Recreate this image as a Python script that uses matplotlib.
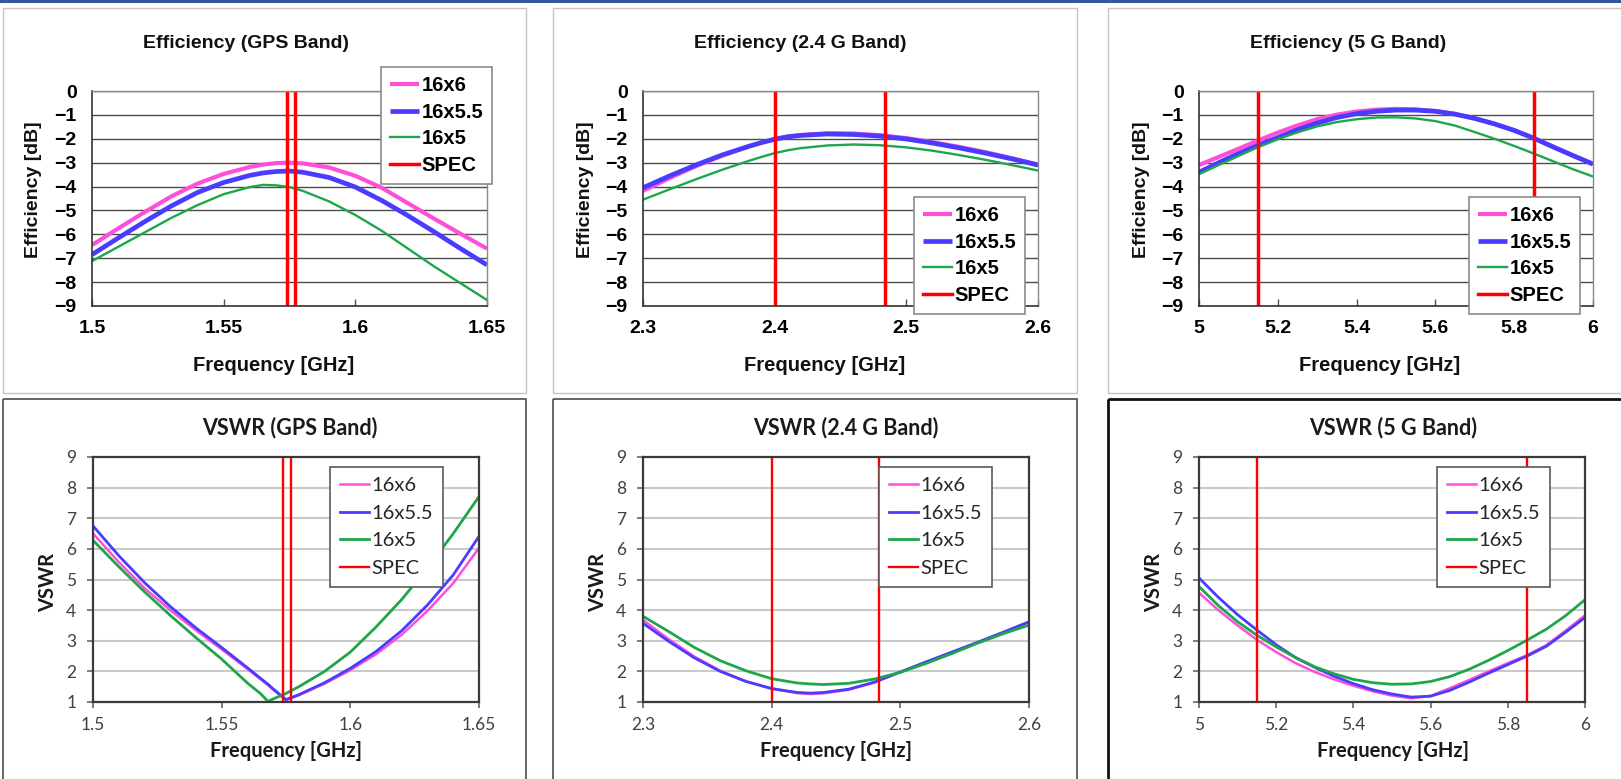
import matplotlib.pyplot as plt
from matplotlib.patches import Rectangle

W, H = 1621, 779

PINK = '#ff4fd8'
BLUE = '#4a3cff'
GREEN = '#1ea64b'
RED = '#ff0000'
TOPFONT = 'Liberation Sans'
BOTFONT = 'Lato'

names = ['16x6', '16x5.5', '16x5']

# ---- Efficiency [dB], GPS band
eff_gps_f = [1.50, 1.51, 1.52, 1.53, 1.54, 1.55, 1.56, 1.565, 1.57, 1.575, 1.58,
             1.59, 1.60, 1.61, 1.62, 1.63, 1.64, 1.65]
eff_gps_6 = [-6.45, -5.75, -5.07, -4.42, -3.88, -3.47, -3.18, -3.08, -3.02, -3.0, -3.03,
             -3.2, -3.55, -4.05, -4.7, -5.35, -5.98, -6.6]
eff_gps_55 = [-6.85, -6.15, -5.47, -4.82, -4.25, -3.83, -3.53, -3.43, -3.37, -3.35, -3.4,
              -3.62, -4.02, -4.58, -5.22, -5.9, -6.6, -7.28]
eff_gps_5 = [-7.12, -6.52, -5.92, -5.32, -4.78, -4.32, -4.02, -3.93, -3.95, -4.02, -4.18,
             -4.62, -5.19, -5.85, -6.6, -7.35, -8.05, -8.75]

# ---- Efficiency [dB], 2.4 G band
eff_24_f = [2.30, 2.32, 2.34, 2.36, 2.38, 2.39, 2.40, 2.41, 2.42, 2.44, 2.46, 2.48,
            2.50, 2.52, 2.54, 2.56, 2.58, 2.60]
eff_24_6 = [-4.18, -3.65, -3.15, -2.71, -2.33, -2.16, -2.01, -1.9, -1.84, -1.77, -1.78, -1.85,
            -1.97, -2.14, -2.34, -2.56, -2.81, -3.08]
eff_24_55 = [-4.05, -3.56, -3.1, -2.68, -2.32, -2.16, -2.02, -1.92, -1.86, -1.8, -1.82, -1.89,
             -2.01, -2.18, -2.38, -2.6, -2.84, -3.1]
eff_24_5 = [-4.55, -4.12, -3.7, -3.3, -2.93, -2.76, -2.6, -2.48, -2.39, -2.28, -2.24, -2.27,
            -2.36, -2.5, -2.68, -2.88, -3.1, -3.33]

# ---- Efficiency [dB], 5 G band
eff_5_f = [5.00, 5.05, 5.10, 5.15, 5.20, 5.25, 5.30, 5.35, 5.40, 5.45, 5.50,
           5.55, 5.60, 5.65, 5.70, 5.75, 5.80, 5.85, 5.90, 5.95, 6.00]
eff_5_6 = [-3.1, -2.76, -2.42, -2.07, -1.74, -1.44, -1.18, -0.99, -0.86, -0.78, -0.75,
           -0.77, -0.84, -0.96, -1.14, -1.37, -1.64, -1.97, -2.34, -2.7, -3.05]
eff_5_55 = [-3.4, -3.0, -2.62, -2.27, -1.95, -1.62, -1.34, -1.11, -0.95, -0.85, -0.8,
            -0.8, -0.85, -0.97, -1.15, -1.38, -1.65, -1.98, -2.35, -2.71, -3.06]
eff_5_5 = [-3.48, -3.1, -2.72, -2.35, -2.02, -1.73, -1.48, -1.3, -1.18, -1.11, -1.1,
           -1.15, -1.26, -1.45, -1.72, -2.0, -2.3, -2.62, -2.95, -3.28, -3.58]

# ---- VSWR, GPS band
vswr_gps_f = [1.50, 1.51, 1.52, 1.53, 1.54, 1.55, 1.56, 1.565, 1.568, 1.57, 1.575,
              1.58, 1.59, 1.60, 1.61, 1.62, 1.63, 1.64, 1.65]
vswr_gps_6 = [6.5, 5.57, 4.72, 4.0, 3.34, 2.72, 2.08, 1.75, 1.55, 1.4, 1.06,
              1.22, 1.6, 2.04, 2.56, 3.2, 3.98, 4.88, 6.03]
vswr_gps_55 = [6.75, 5.78, 4.9, 4.12, 3.42, 2.78, 2.12, 1.78, 1.58, 1.43, 1.08,
               1.24, 1.63, 2.1, 2.65, 3.33, 4.17, 5.15, 6.41]
vswr_gps_5 = [6.28, 5.42, 4.6, 3.83, 3.1, 2.4, 1.62, 1.28, 1.02, 1.1, 1.28,
              1.5, 2.0, 2.63, 3.45, 4.35, 5.38, 6.5, 7.71]

# ---- VSWR, 2.4 G band
vswr_24_f = [2.30, 2.32, 2.34, 2.36, 2.38, 2.40, 2.42, 2.43, 2.44, 2.46, 2.48,
             2.50, 2.52, 2.54, 2.56, 2.58, 2.60]
vswr_24_6 = [3.68, 3.05, 2.48, 2.02, 1.68, 1.43, 1.29, 1.26, 1.28, 1.4, 1.64,
             1.98, 2.3, 2.62, 2.94, 3.27, 3.6]
vswr_24_55 = [3.57, 2.98, 2.44, 2.0, 1.67, 1.44, 1.31, 1.29, 1.31, 1.42, 1.65,
              1.98, 2.31, 2.63, 2.95, 3.28, 3.62]
vswr_24_5 = [3.8, 3.3, 2.78, 2.35, 2.02, 1.76, 1.62, 1.59, 1.57, 1.61, 1.75,
             1.97, 2.26, 2.58, 2.92, 3.23, 3.51]

# ---- VSWR, 5 G band
vswr_5_f = eff_5_f
vswr_5_6 = [4.57, 4.0, 3.5, 3.03, 2.63, 2.27, 1.98, 1.74, 1.53, 1.35, 1.21,
            1.12, 1.2, 1.45, 1.72, 2.0, 2.27, 2.53, 2.86, 3.33, 3.83]
vswr_5_55 = [5.05, 4.42, 3.85, 3.35, 2.87, 2.45, 2.13, 1.84, 1.6, 1.4, 1.26,
             1.16, 1.19, 1.38, 1.65, 1.94, 2.22, 2.5, 2.82, 3.28, 3.76]
vswr_5_5 = [4.77, 4.15, 3.62, 3.18, 2.8, 2.45, 2.15, 1.92, 1.74, 1.63, 1.58,
            1.59, 1.67, 1.83, 2.07, 2.36, 2.68, 3.02, 3.38, 3.82, 4.34]

# spec band edges [GHz]
spec_gps = [1.574, 1.577]
spec_24 = [2.400, 2.4835]
spec_5 = [5.15, 5.85]

xt_gps = [1.5, 1.55, 1.6, 1.65]
xt_gps_lab = ['1.5', '1.55', '1.6', '1.65']
xt_24 = [2.3, 2.4, 2.5, 2.6]
xt_24_lab = ['2.3', '2.4', '2.5', '2.6']
xt_5 = [5.0, 5.2, 5.4, 5.6, 5.8, 6.0]
xt_5_lab = ['5', '5.2', '5.4', '5.6', '5.8', '6']
eff_yt = list(range(0, -10, -1))
vswr_yt = list(range(1, 10))

fig = plt.figure(figsize=(W / 100, H / 100), dpi=100)

# background layer in pixel coords (y down)
bg = fig.add_axes([0, 0, 1, 1])
bg.set_xlim(0, W)
bg.set_ylim(H, 0)
bg.axis('off')
bg.add_patch(Rectangle((0, 0), W, 2.5, color='#34589a', lw=0))
for x0, x1 in [(3, 526), (553, 1077), (1108, 1640)]:
    bg.add_patch(Rectangle((x0, 8), x1 - x0, 385, fill=False, ec='#c4c4c4', lw=1.0))
for x0, x1, ec, lw in [(3, 526, '#5a5a5a', 1.3), (553, 1077, '#5a5a5a', 1.3), (1108, 1640, '#111111', 2.0)]:
    bg.add_patch(Rectangle((x0, 399), x1 - x0, 420, fill=False, ec=ec, lw=lw))


def px_axes(x0, y0, x1, y1):
    return fig.add_axes([x0 / W, 1 - y1 / H, (x1 - x0) / W, (y1 - y0) / H])


def eff_panel(box, f, s6, s55, s5, spec, xt, xtl, legpos, title, tpos, xlpos, ylpos):
    ax = px_axes(*box)
    ax.plot(f, s6, color=PINK, lw=3.0, label=names[0], solid_capstyle='butt')
    ax.plot(f, s55, color=BLUE, lw=3.4, label=names[1], solid_capstyle='butt')
    ax.plot(f, s5, color=GREEN, lw=1.7, label=names[2])
    for i, s in enumerate(spec):
        ax.axvline(s, color=RED, lw=2.5, label='SPEC' if i == 0 else None)
    ax.set_xlim(xt[0], xt[-1])
    ax.set_ylim(-9, 0)
    ax.set_xticks(xt, labels=xtl)
    ax.set_yticks(eff_yt, labels=[str(v).replace('-', '\u2212') for v in eff_yt])
    ax.tick_params(axis='x', direction='in', length=5, width=1, color='#555555', pad=10)
    ax.tick_params(axis='y', length=0, pad=11)
    for lbl in ax.get_xticklabels() + ax.get_yticklabels():
        lbl.set_fontfamily(TOPFONT)
        lbl.set_fontweight('bold')
        lbl.set_fontsize(14)
    ax.grid(axis='y', color='#4d4d4d', lw=1.0)
    ax.set_axisbelow(True)
    for side in ['left', 'bottom']:
        ax.spines[side].set_color('#333333')
        ax.spines[side].set_linewidth(1.2)
    for side in ['top', 'right']:
        ax.spines[side].set_color('#8a8a8a')
        ax.spines[side].set_linewidth(1.0)
    leg = ax.legend(loc='upper left', bbox_to_anchor=(legpos[0] / W, 1 - legpos[1] / H),
                    bbox_transform=fig.transFigure, borderaxespad=0, fancybox=False,
                    edgecolor='#8a8a8a', framealpha=1,
                    prop=dict(family=TOPFONT, weight='bold', size=14.5),
                    handlelength=1.45, handletextpad=0.12, labelspacing=0.38, borderpad=0.45)
    leg.get_frame().set_linewidth(1.2)
    bg.text(tpos, 43, title, ha='center', va='center', family=TOPFONT, weight='bold',
            fontsize=14, color='#111111')
    bg.text(xlpos, 365, 'Frequency [GHz]', ha='center', va='center', family=TOPFONT,
            weight='bold', fontsize=14.5, color='#111111')
    bg.text(ylpos, 190, 'Efficiency [dB]', ha='center', va='center', rotation=90,
            family=TOPFONT, weight='bold', fontsize=14, color='#111111')
    return ax


def vswr_panel(box, f, s6, s55, s5, spec, xt, xtl, legpos, title, tpos, xlpos, ylpos):
    ax = px_axes(*box)
    ax.plot(f, s6, color=PINK, lw=1.8, label=names[0])
    ax.plot(f, s55, color=BLUE, lw=2.0, label=names[1])
    ax.plot(f, s5, color=GREEN, lw=2.0, label=names[2])
    for i, s in enumerate(spec):
        ax.axvline(s, color=RED, lw=1.7, label='SPEC' if i == 0 else None)
    ax.set_xlim(xt[0], xt[-1])
    ax.set_ylim(1, 9)
    ax.set_xticks(xt, labels=xtl)
    ax.set_yticks(vswr_yt, labels=[str(v) for v in vswr_yt])
    ax.tick_params(direction='out', length=4, width=1.1, color='#5a5a5a',
                   labelcolor='#404040')
    ax.tick_params(axis='x', pad=7)
    ax.tick_params(axis='y', pad=8)
    for lbl in ax.get_xticklabels() + ax.get_yticklabels():
        lbl.set_fontfamily(BOTFONT)
        lbl.set_fontsize(12.5)
    ax.grid(axis='y', color='#c9c9c9', lw=1.5)
    ax.set_axisbelow(True)
    for sp in ax.spines.values():
        sp.set_color('#3a3a3a')
        sp.set_linewidth(1.6)
    leg = ax.legend(loc='upper left', bbox_to_anchor=(legpos[0] / W, 1 - legpos[1] / H),
                    bbox_transform=fig.transFigure, borderaxespad=0, fancybox=False,
                    edgecolor='#5a5a5a', framealpha=1,
                    prop=dict(family=BOTFONT, size=14.5),
                    handlelength=1.45, handletextpad=0.1, labelspacing=0.52, borderpad=0.5)
    leg.get_frame().set_linewidth(1.2)
    for t in leg.get_texts():
        t.set_color('#262626')
    bg.text(tpos, 428, title, ha='center', va='center', family=BOTFONT, weight='bold',
            fontsize=15.5, color='#1a1a1a')
    bg.text(xlpos, 751, 'Frequency [GHz]', ha='center', va='center', family=BOTFONT,
            weight='bold', fontsize=14.5, color='#1a1a1a')
    bg.text(ylpos, 582, 'VSWR', ha='center', va='center', rotation=90, family=BOTFONT,
            weight='bold', fontsize=14.5, color='#1a1a1a')
    return ax


eff_panel((92, 91, 487, 306), eff_gps_f, eff_gps_6, eff_gps_55, eff_gps_5, spec_gps,
          xt_gps, xt_gps_lab, (381, 67), 'Efficiency (GPS Band)', 246, 274, 34)
eff_panel((643, 91, 1038, 306), eff_24_f, eff_24_6, eff_24_55, eff_24_5, spec_24,
          xt_24, xt_24_lab, (914, 197), 'Efficiency (2.4 G Band)', 800, 825, 586)
eff_panel((1199, 91, 1593, 306), eff_5_f, eff_5_6, eff_5_55, eff_5_5, spec_5,
          xt_5, xt_5_lab, (1469, 197), 'Efficiency (5 G Band)', 1348, 1380, 1142)

vswr_panel((93, 457, 479, 702), vswr_gps_f, vswr_gps_6, vswr_gps_55, vswr_gps_5, spec_gps,
           xt_gps, xt_gps_lab, (330, 467), 'VSWR (GPS Band)', 290, 286, 48)
vswr_panel((643, 457, 1029, 702), vswr_24_f, vswr_24_6, vswr_24_55, vswr_24_5, spec_24,
           xt_24, xt_24_lab, (879, 467), 'VSWR (2.4 G Band)', 846, 836, 598)
vswr_panel((1199, 457, 1585, 702), vswr_5_f, vswr_5_6, vswr_5_55, vswr_5_5, spec_5,
           xt_5, xt_5_lab, (1437, 467), 'VSWR (5 G Band)', 1393, 1393, 1154)

fig.savefig('out.png', dpi=100)
